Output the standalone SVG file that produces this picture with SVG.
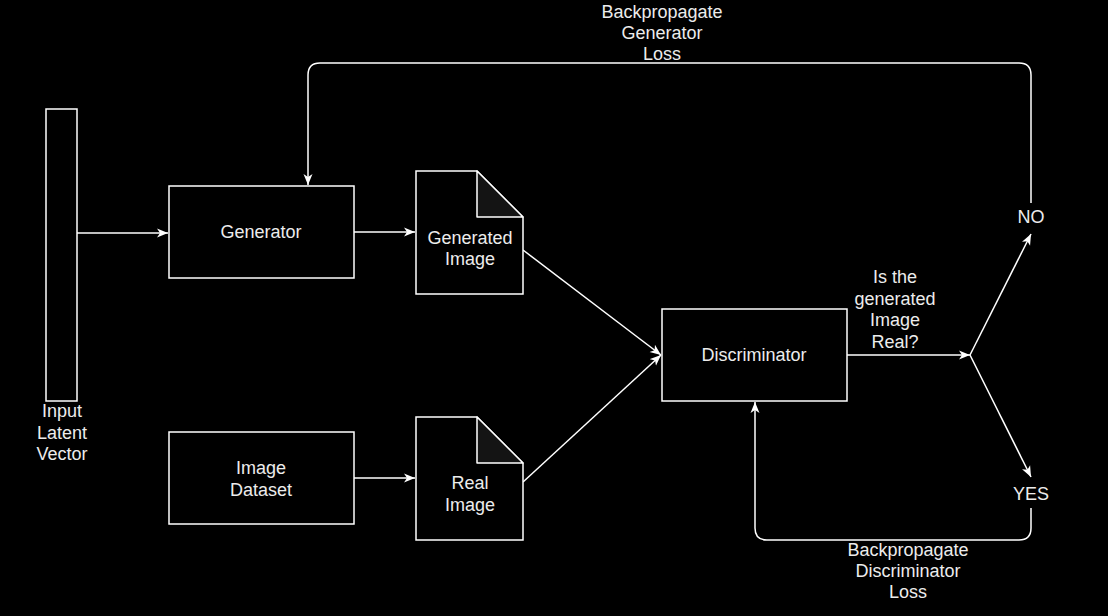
<svg xmlns="http://www.w3.org/2000/svg" width="1108" height="616" viewBox="0 0 1108 616">
<defs>
<style>
.box{fill:#000;stroke:#fff;stroke-width:1.5}
.fold{fill:#141414;stroke:#fff;stroke-width:1.5;stroke-linejoin:round}
.edge{fill:none;stroke:#fff;stroke-width:1.5}
text{font-family:"Liberation Sans",Arial,sans-serif;font-size:18px;fill:#ececec;text-anchor:middle;dominant-baseline:central}
</style>
<marker id="arr" markerUnits="userSpaceOnUse" markerWidth="12" markerHeight="10" refX="11" refY="5" orient="auto">
<path d="M0,0.5 L11,5 L0,9.5 L3,5 z" fill="#fff"/>
</marker>
</defs>
<rect width="1108" height="616" fill="#000"/>
<g id="connectors">
<path class="edge" d="M77,233 L168,233" marker-end="url(#arr)"/>
<path class="edge" d="M354,232 L415,232" marker-end="url(#arr)"/>
<path class="edge" d="M354,478 L415,478" marker-end="url(#arr)"/>
<path class="edge" d="M523,250 L661,355" marker-end="url(#arr)"/>
<path class="edge" d="M523,482 L661,355" marker-end="url(#arr)"/>
<path class="edge" d="M847,355 L970,355" marker-end="url(#arr)"/>
<path class="edge" d="M970,355 L1031,234" marker-end="url(#arr)"/>
<path class="edge" d="M970,355 L1031,477" marker-end="url(#arr)"/>
<path class="edge" d="M1031,203 L1031,75 Q1031,63 1019,63 L320,63 Q308,63 308,75 L308,185" marker-end="url(#arr)"/>
<path class="edge" d="M1031,508 L1031,528 Q1031,540 1019,540 L767,540 Q755,540 755,528 L755,402" marker-end="url(#arr)"/>
<text x="662" y="12">Backpropagate</text>
<text x="662" y="33">Generator</text>
<text x="662" y="54">Loss</text>
<text x="908" y="550">Backpropagate</text>
<text x="908" y="571">Discriminator</text>
<text x="908" y="592">Loss</text>
</g>
<g id="input-vector">
<rect class="box" x="46" y="109" width="31" height="292"/>
<text x="62" y="411">Input</text>
<text x="62" y="433">Latent</text>
<text x="62" y="454">Vector</text>
</g>
<g id="generator">
<rect class="box" x="169" y="186" width="185" height="92"/>
<text x="261" y="232">Generator</text>
</g>
<g id="generated-image">
<path class="box" d="M416,171 L477,171 L523,217 L523,294 L416,294 Z"/>
<path class="fold" d="M477,171 L477,217 L523,217 Z"/>
<text x="470" y="238">Generated</text>
<text x="470" y="259">Image</text>
</g>
<g id="image-dataset">
<rect class="box" x="169" y="432" width="185" height="92"/>
<text x="261" y="468">Image</text>
<text x="261" y="490">Dataset</text>
</g>
<g id="real-image">
<path class="box" d="M416,417 L477,417 L523,463 L523,540 L416,540 Z"/>
<path class="fold" d="M477,417 L477,463 L523,463 Z"/>
<text x="470" y="483">Real</text>
<text x="470" y="505">Image</text>
</g>
<g id="discriminator">
<rect class="box" x="662" y="309" width="185" height="92"/>
<text x="754" y="355">Discriminator</text>
</g>
<g id="question">
<text x="895" y="277">Is the</text>
<text x="895" y="299">generated</text>
<text x="895" y="320">Image</text>
<text x="895" y="342">Real?</text>
</g>
<g id="no">
<text x="1031" y="217">NO</text>
</g>
<g id="yes">
<text x="1031" y="494">YES</text>
</g>
</svg>
